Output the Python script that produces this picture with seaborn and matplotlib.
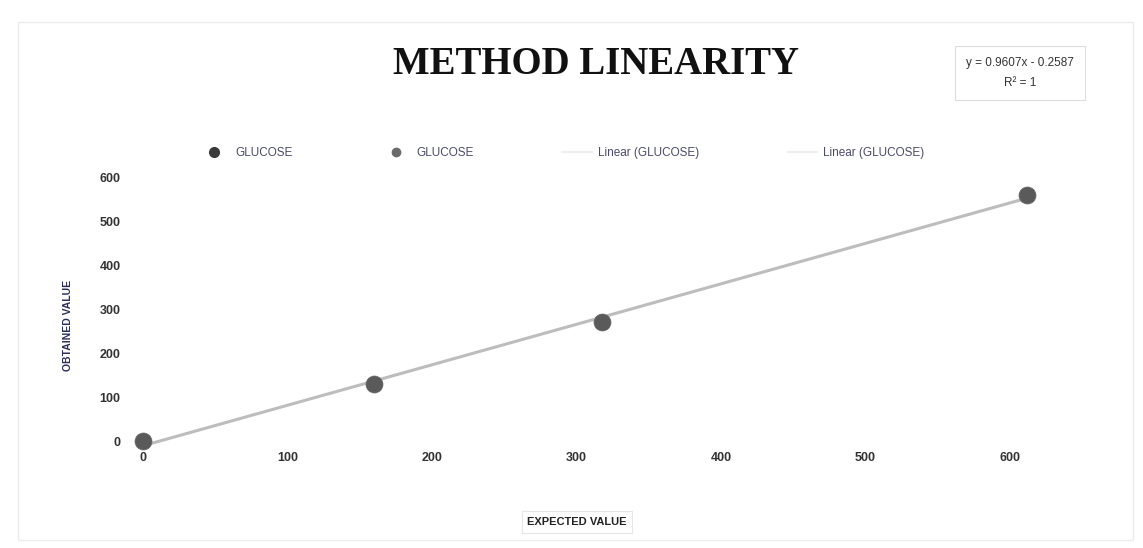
import matplotlib
matplotlib.use("Agg")
import numpy as np
import pandas as pd
import seaborn as sns
import matplotlib.pyplot as plt
from matplotlib.lines import Line2D
from matplotlib.patches import Rectangle

# Values
expected = [0, 160, 318, 612]
obtained = [0, 130, 270, 560]
x_ticks = [0, 100, 200, 300, 400, 500, 600]
y_ticks = [0, 100, 200, 300, 400, 500, 600]
trend_text = "y = 0.9607x - 0.2587\nR² = 1"
legend_labels = ["GLUCOSE", "GLUCOSE", "Linear (GLUCOSE)", "Linear (GLUCOSE)"]

data = pd.DataFrame({"Expected": expected, "Obtained": obtained})

sns.set_style("white")
plt.rcParams["font.family"] = ["Liberation Sans", "DejaVu Sans"]

fig = plt.figure(figsize=(11.43, 5.48), dpi=100)
ax = fig.add_axes([0.125, 0.195, 0.7585, 0.482])

# Trend line
sns.regplot(data=data, x="Expected", y="Obtained", scatter=False, ci=None, ax=ax,
            line_kws={"color": "#bdbdbd", "linewidth": 2.2, "clip_on": False})
# Points
sns.scatterplot(data=data, x="Expected", y="Obtained", ax=ax, s=150, color="#5a5a5a",
                edgecolor="#6a6a6a", linewidth=0.5, zorder=5, clip_on=False)

ax.set_xlim(0, 600)
ax.set_ylim(0, 600)
ax.set_xticks(x_ticks)
ax.set_yticks(y_ticks)
ax.tick_params(axis="both", length=0, labelsize=9, labelcolor="#333333")
ax.tick_params(axis="x", pad=8)
ax.tick_params(axis="y", pad=16)
for lab in ax.get_xticklabels() + ax.get_yticklabels():
    lab.set_fontweight("bold")
sns.despine(ax=ax, left=True, bottom=True)
ax.set_xlabel("")
ax.set_ylabel("")

# Axis titles
fig.text(68 / 1143, 1 - 325 / 548, "OBTAINED VALUE", rotation=90, ha="center", va="center",
         fontsize=7.5, color="#2a2f5a", fontweight="bold")
fig.text(577 / 1143, 1 - 522 / 548, "EXPECTED VALUE", ha="center", va="center",
         fontsize=8, color="#222222", fontweight="bold",
         bbox=dict(boxstyle="square,pad=0.5", facecolor="white", edgecolor="#e6e6e6", linewidth=0.8))

# Title
fig.text(596 / 1143, 1 - 65 / 548, "METHOD LINEARITY", ha="center", va="center",
         fontsize=28, fontweight="bold", family=["Liberation Serif", "DejaVu Serif"], color="#111111")

# Trendline equation box
fig.text(1020 / 1143, 1 - 73 / 548, trend_text, ha="center", va="center", fontsize=8.5,
         color="#333333", linespacing=1.9,
         bbox=dict(boxstyle="square,pad=0.9", facecolor="white", edgecolor="#dddddd", linewidth=0.8))

# Legend
handles = [
    Line2D([], [], marker="o", linestyle="none", color="#3a3a3a", markersize=7),
    Line2D([], [], marker="o", linestyle="none", color="#6a6a6a", markersize=6),
    Line2D([], [], color="#eeeeee", linewidth=1.5),
    Line2D([], [], color="#eeeeee", linewidth=1.5),
]
leg = fig.legend(handles, legend_labels, loc="center", bbox_to_anchor=(562 / 1143, 1 - 153 / 548),
                 ncol=4, frameon=False, fontsize=8.5, columnspacing=7.5, handletextpad=0.5,
                 handlelength=2.5)
for t in leg.get_texts():
    t.set_color("#4a4a6a")

# Faint outer frame of the chart area
fig.patches.append(Rectangle((18 / 1143, 8 / 548), 1115 / 1143, 518 / 548, transform=fig.transFigure,
                             fill=False, edgecolor="#ececec", linewidth=1.0))

fig.savefig("out.png", dpi=100)
